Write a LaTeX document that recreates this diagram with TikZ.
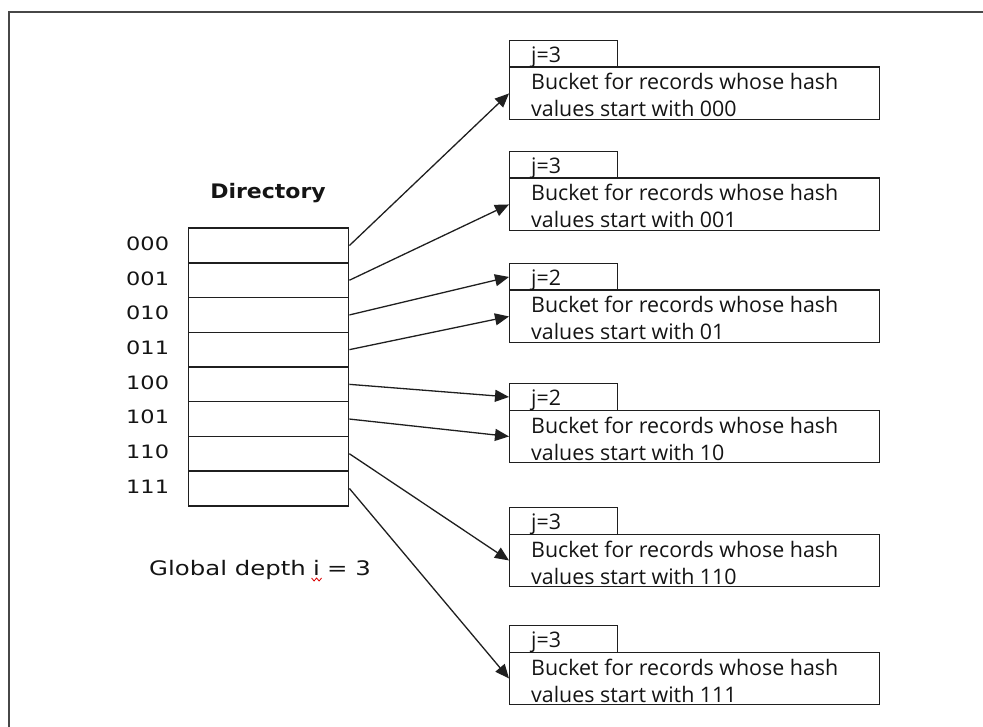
\documentclass[tikz,border=0pt]{standalone}
\usepackage{fontspec}
\setmainfont{Open Sans}
\newfontfamily\widefont{DejaVu Sans}
\usetikzlibrary{arrows.meta}
\begin{document}
\begin{tikzpicture}[x=1pt,y=-1pt,
  box/.style={draw=black!88, line width=1.4pt, inner sep=0pt, anchor=north west},
  txt/.style={anchor=base west, inner sep=0pt, text=black!92},
  bucketfont/.style={font=\fontsize{21.4}{25}\selectfont},
  widetxt/.style={font=\fontsize{20}{24}\widefont},
  ptr/.style={draw=black!88, line width=1.3pt, -{Triangle[length=14pt,width=12pt]}}
]
\useasboundingbox (0,0) rectangle (983,727);
\clip (0,0) rectangle (983,727);

% outer frame, running past the right and bottom edges
\draw[black!72, line width=1.8pt] (9,12) rectangle (1010,760);

% directory title
\node[anchor=base, inner sep=0pt, text=black!92, font=\fontsize{20}{24}\widefont\bfseries]
  (title) at (268,199) {\scalebox{1.1}[1]{Directory}};

% directory slots with their bit-string labels
\foreach \k/\lab in {0/000,1/001,2/010,3/011,4/100,5/101,6/110,7/111}{
  \node[box, minimum width=160pt, minimum height=34.7pt] (d\k) at (188,{227.5+34.7*\k}) {};
  \node[txt, font=\fontsize{18.4}{22}\widefont] (l\k) at (126,{227.5+34.7*\k+23})
    {\scalebox{1.22}[1]{\lab}};
}

% global depth caption; the i carries a wavy red underline
\node[txt, widetxt] (gd) at (149,575) {\scalebox{1.22}[1]{Global depth}};
\node[txt, widetxt] (gi) at (313,575) {\scalebox{1.22}[1]{i}};
\node[txt, widetxt] (gv) at (327,575) {\scalebox{1.22}[1]{= 3}};
\draw[red!85!black, line width=0.8pt]
  ([shift={(-5,3)}]gi.base) -- ++(2.5,3) -- ++(2.5,-3) -- ++(2.5,3) -- ++(2.5,-3);

% buckets: local depth box on top, record area below
\foreach \k/\top/\jv/\pre in {1/40/3/000,2/151/3/001,3/263/2/01,4/383/2/10,5/507/3/110,6/625/3/111}{
  \node[box, minimum width=108pt, minimum height=26.5pt] (j\k) at (509,\top) {};
  \node[box, minimum width=370pt, minimum height=52.5pt] (b\k) at (509,{\top+26.5}) {};
  \node[txt, bucketfont] (jt\k) at (531,{\top+22.5}) {j=\jv};
  \node[txt, bucketfont] (bt\k) at (531,{\top+50}) {Bucket for records whose hash};
  \node[txt, bucketfont] (vt\k) at (531,{\top+77}) {values start with \pre};
}

% directory pointers
\draw[ptr] (d0.east) -- (b1.west);
\draw[ptr] (d1.east) -- (b2.west);
\draw[ptr] (d2.east) -- (j3.west);
\draw[ptr] (d3.east) -- (b3.west);
\draw[ptr] (d4.east) -- (j4.west);
\draw[ptr] (d5.east) -- (b4.west);
\draw[ptr] (d6.east) -- (b5.west);
\draw[ptr] (d7.east) -- (b6.west);
\end{tikzpicture}
\end{document}
